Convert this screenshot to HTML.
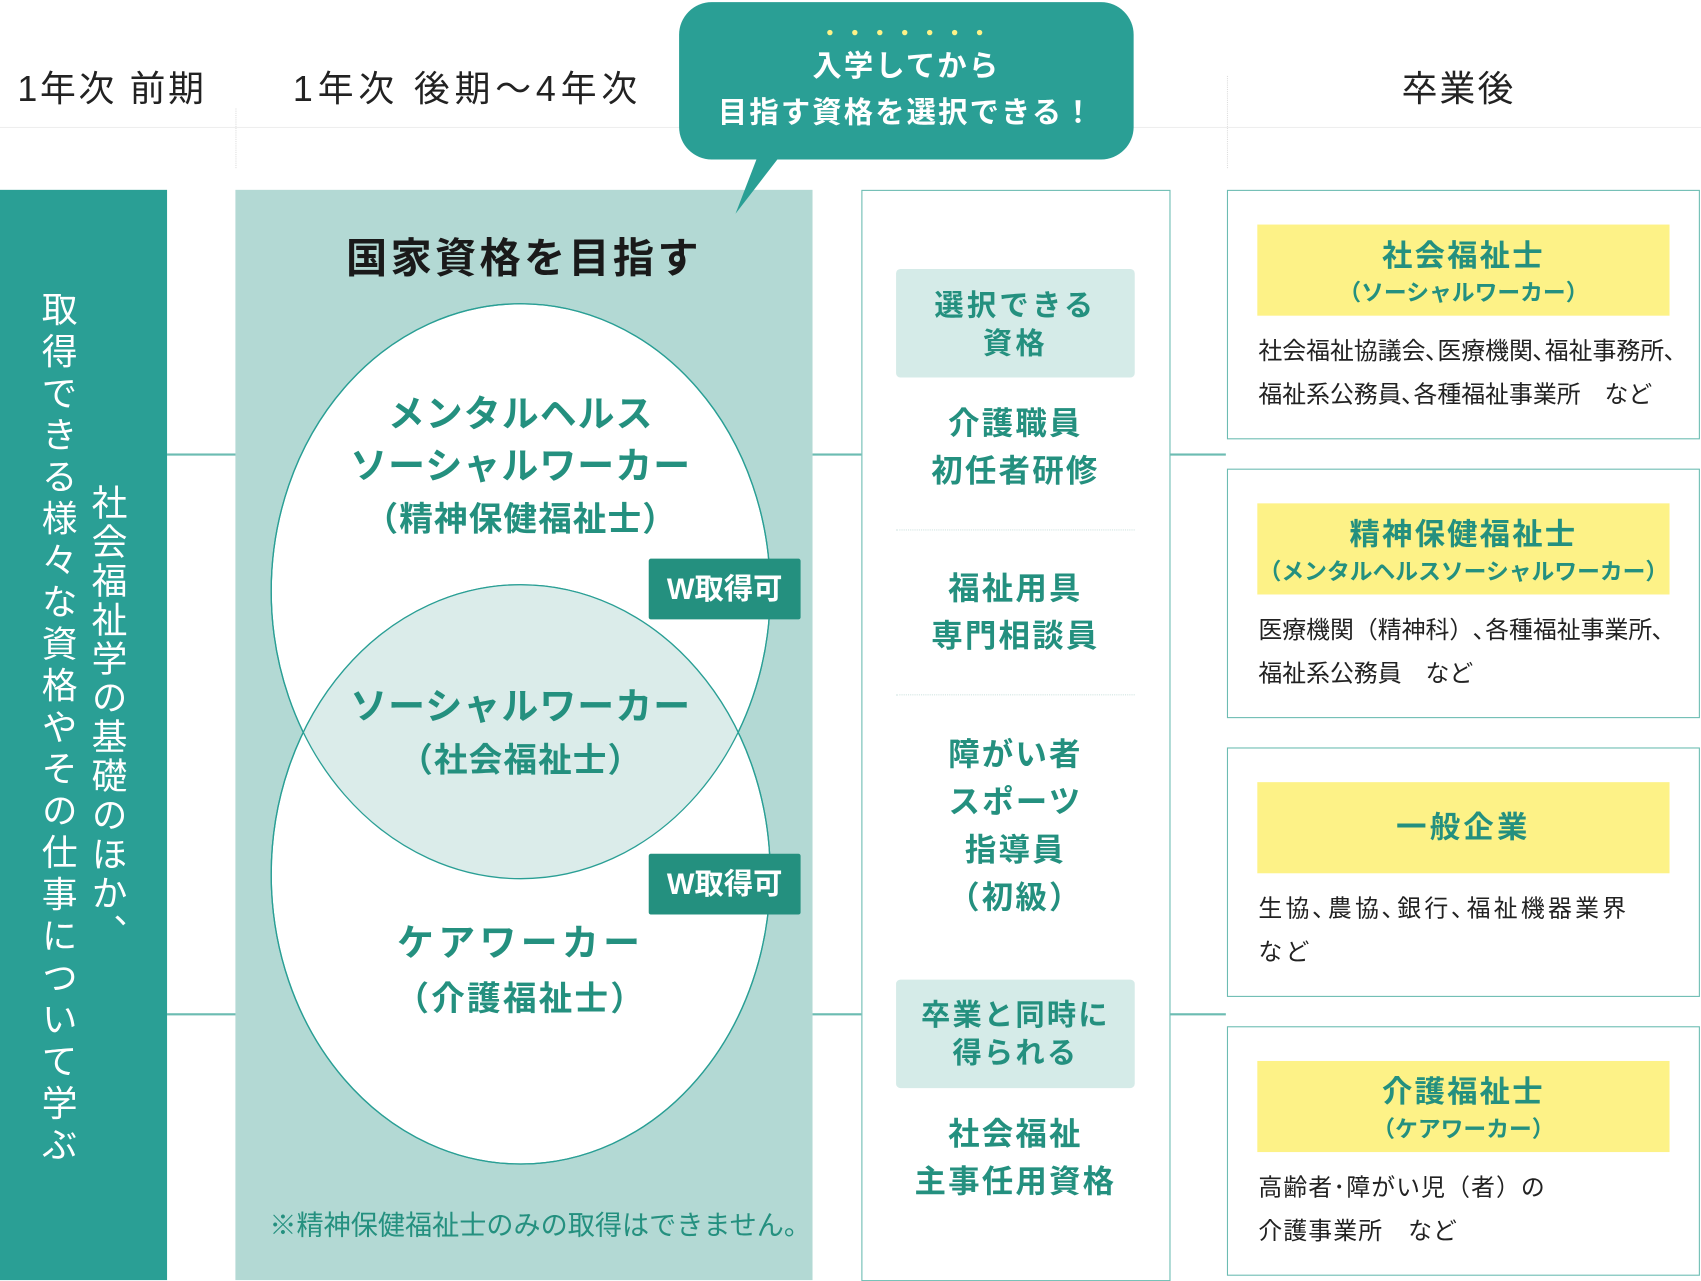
<!DOCTYPE html>
<html><head><meta charset="utf-8"><style>
html,body{margin:0;padding:0;background:#fff;width:1701px;height:1280px;overflow:hidden}
#w{position:absolute;left:0;top:0;width:1568px;height:1180px;transform:scale(1.08482);transform-origin:0 0;font-family:"Liberation Sans","Noto Sans CJK JP",sans-serif}
.a{position:absolute}
.hd{position:absolute;top:55px;font-size:33px;color:#222;letter-spacing:1px}
.t{color:#24907f;font-weight:bold;text-align:center;position:absolute}
.rb{position:absolute;left:1131px;width:434px;height:228px;border:1.5px solid #6cbcb2;background:#fff}
.yb{position:absolute;left:27px;width:380px;height:84px;top:31px;background:#fdf287;text-align:center;color:#24907f;font-weight:bold}
.rt{position:absolute;left:28px;font-size:22px;line-height:40px;color:#222;top:128px;white-space:nowrap}
.gb{position:absolute;left:826px;width:220px;height:100px;background:#d5ebe8;border-radius:4px}
.line{position:absolute;height:1.5px;background:#6cbcb2}
</style></head><body><div id="w">
<div class="a" style="left:0;top:117px;width:1568px;height:1px;background:#eee"></div>
<div class="a" style="left:217px;top:100px;width:1px;height:55px;border-left:1px dotted #ddd"></div>
<div class="a" style="left:1131px;top:70px;width:1px;height:85px;border-left:1px dotted #ddd"></div>
<div class="hd" style="left:16px;letter-spacing:2.5px">1年次 前期</div>
<div class="hd" style="left:270px;letter-spacing:4.5px">1年次 後期～4年次</div>
<div class="hd" style="left:1292px;letter-spacing:2px">卒業後</div>

<div class="line" style="left:154px;top:418px;width:64px"></div>
<div class="line" style="left:154px;top:934px;width:64px"></div>
<div class="line" style="left:749px;top:418px;width:46px"></div>
<div class="line" style="left:749px;top:934px;width:46px"></div>
<div class="line" style="left:1078px;top:418px;width:52px"></div>
<div class="line" style="left:1078px;top:934px;width:52px"></div>

<div class="a" style="left:0;top:175px;width:154px;height:1005px;background:#2a9f95"></div>
<div class="a" style="left:28px;top:268px;writing-mode:vertical-rl;color:#fff;font-size:33px;letter-spacing:5.5px">取得できる様々な資格やその仕事について学ぶ</div>
<div class="a" style="left:74px;top:446px;writing-mode:vertical-rl;color:#fff;font-size:33px;letter-spacing:3px">社会福祉学の基礎のほか、</div>

<div class="a" style="left:217px;top:175px;width:532px;height:1005px;background:#b3d9d4"></div>
<svg class="a" style="left:0;top:0" width="1568" height="1180">
<defs><clipPath id="c"><ellipse cx="480" cy="545" rx="230" ry="265"/></clipPath></defs>
<ellipse cx="480" cy="545" rx="230" ry="265" fill="#fff" stroke="#2a9f95" stroke-width="1.2"/>
<ellipse cx="480" cy="806" rx="230" ry="267" fill="#fff" stroke="#2a9f95" stroke-width="1.2"/>
<ellipse cx="480" cy="806" rx="230" ry="267" fill="#dbecea" clip-path="url(#c)"/>
<ellipse cx="480" cy="545" rx="230" ry="265" fill="none" stroke="#2a9f95" stroke-width="1.2"/>
<ellipse cx="480" cy="806" rx="230" ry="267" fill="none" stroke="#2a9f95" stroke-width="1.2"/>
<path d="M700 140 L678 197 L722 140 Z" fill="#2a9f95"/>
<rect x="626" y="2" width="419" height="145" rx="30" fill="#2a9f95"/>
<g fill="#fdf287"><circle cx="765" cy="30" r="2.5"/><circle cx="788" cy="30" r="2.5"/><circle cx="811" cy="30" r="2.5"/><circle cx="834" cy="30" r="2.5"/><circle cx="857" cy="30" r="2.5"/><circle cx="880" cy="30" r="2.5"/><circle cx="903" cy="30" r="2.5"/></g>
</svg>
<div class="a" style="left:626px;top:40px;width:419px;text-align:center;color:#fff;font-weight:bold;font-size:27px;line-height:43px;letter-spacing:2px">入学してから<br>目指す資格を選択できる！</div>

<div class="a" style="left:217px;top:207px;width:532px;text-align:center;font-weight:bold;font-size:38px;color:#1a1a1a;letter-spacing:3px">国家資格を目指す</div>
<div class="t" style="left:250px;width:460px;top:358px;font-size:34px;line-height:48px;letter-spacing:1px">メンタルヘルス<br>ソーシャルワーカー<br><span style="font-size:31px">（精神保健福祉士）</span></div>
<div class="t" style="left:250px;width:460px;top:628px;font-size:34px;line-height:48px;letter-spacing:1px">ソーシャルワーカー<br><span style="font-size:31px">（社会福祉士）</span></div>
<div class="t" style="left:250px;width:460px;top:845px;font-size:34px;line-height:50px;letter-spacing:4px">ケアワーカー<br><span style="font-size:31px;letter-spacing:2px">（介護福祉士）</span></div>
<div class="a" style="left:598px;top:515px;width:140px;height:56px;background:#24907f;border-radius:2px;color:#fff;font-weight:bold;font-size:27px;line-height:56px;text-align:center">W取得可</div>
<div class="a" style="left:598px;top:787px;width:140px;height:56px;background:#24907f;border-radius:2px;color:#fff;font-weight:bold;font-size:27px;line-height:56px;text-align:center">W取得可</div>
<div class="a" style="left:232px;top:1110px;width:532px;text-align:center;color:#24907f;font-size:25px">※精神保健福祉士のみの取得はできません。</div>

<div class="a" style="left:794px;top:175px;width:283px;height:1004px;border:1.5px solid #6cbcb2;background:#fff"></div>
<div class="gb" style="top:248px"></div>
<div class="t" style="left:826px;width:220px;top:265px;font-size:27px;line-height:35px;letter-spacing:3px">選択できる<br>資格</div>
<div class="t" style="left:800px;width:272px;top:369px;font-size:29px;line-height:44px;letter-spacing:2px">介護職員<br>初任者研修</div>
<div class="a" style="left:826px;top:488px;width:220px;border-top:1px dotted #cfe3e0"></div>
<div class="t" style="left:800px;width:272px;top:521px;font-size:29px;line-height:44px;letter-spacing:2px">福祉用具<br>専門相談員</div>
<div class="a" style="left:826px;top:640px;width:220px;border-top:1px dotted #cfe3e0"></div>
<div class="t" style="left:800px;width:272px;top:674px;font-size:29px;line-height:44px;letter-spacing:2px">障がい者<br>スポーツ<br>指導員<br>（初級）</div>
<div class="gb" style="top:903px"></div>
<div class="t" style="left:826px;width:220px;top:919px;font-size:27px;line-height:35px;letter-spacing:2px">卒業と同時に<br>得られる</div>
<div class="t" style="left:800px;width:272px;top:1024px;font-size:29px;line-height:44px;letter-spacing:2px">社会福祉<br>主事任用資格</div>

<div class="rb" style="top:175px"><div class="yb"><div style="font-size:28px;padding-top:7px;letter-spacing:2px">社会福祉士</div><div style="font-size:21px">（ソーシャルワーカー）</div></div><div class="rt">社会福祉協議会､医療機関､福祉事務所､<br>福祉系公務員､各種福祉事業所　など</div></div>
<div class="rb" style="top:432px"><div class="yb"><div style="font-size:28px;padding-top:7px;letter-spacing:2px">精神保健福祉士</div><div style="font-size:21px">（メンタルヘルスソーシャルワーカー）</div></div><div class="rt">医療機関（精神科）､各種福祉事業所､<br>福祉系公務員　など</div></div>
<div class="rb" style="top:689px"><div class="yb" style="line-height:84px;font-size:28px;letter-spacing:3px">一般企業</div><div class="rt" style="letter-spacing:3px">生協､農協､銀行､福祉機器業界<br>など</div></div>
<div class="rb" style="top:946px"><div class="yb"><div style="font-size:28px;padding-top:7px;letter-spacing:2px">介護福祉士</div><div style="font-size:21px">（ケアワーカー）</div></div><div class="rt" style="letter-spacing:1px">高齢者･障がい児（者）の<br>介護事業所　など</div></div>
</div></body></html>
